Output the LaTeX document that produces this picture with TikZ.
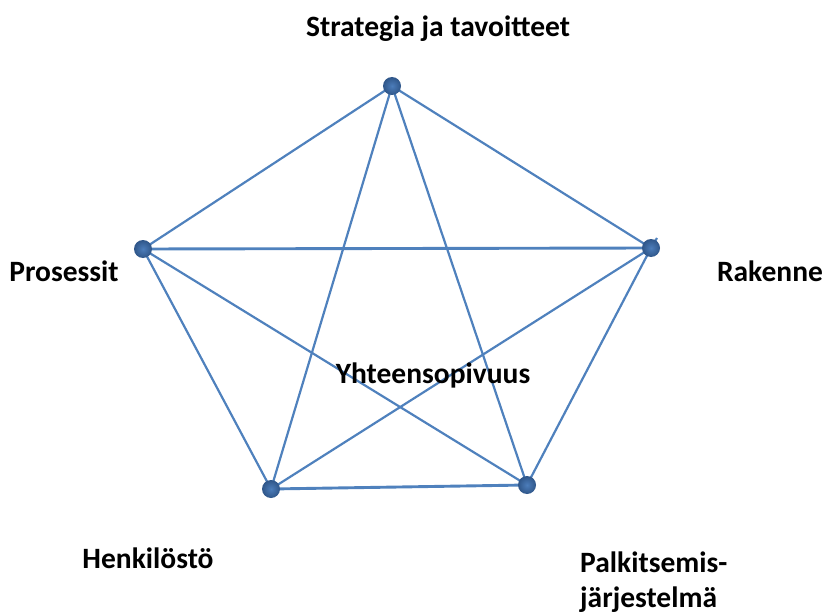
\documentclass[tikz,border=0pt]{standalone}
\usepackage{fontspec}
\setmainfont{Carlito}
\definecolor{lineblue}{HTML}{4F81BD}
\definecolor{dotouter}{HTML}{2F5689}
\definecolor{dotinner}{HTML}{4C7DBA}
\begin{document}
\begin{tikzpicture}[x=1pt,y=-1pt,
  vert/.style={circle,minimum size=18pt,inner sep=0pt,shading=radial,inner color=dotinner,outer color=dotouter},
  edge/.style={draw=lineblue,line width=2.2pt},
  thickedge/.style={draw=lineblue,line width=2.9pt},
  lab/.style={font=\fontsize{29.5}{39}\selectfont\bfseries,inner sep=0pt,anchor=base}]
\useasboundingbox (0,0) rectangle (825,615);
\coordinate (T) at (392,86);
\coordinate (L) at (143,249);
\coordinate (R) at (651,248);
\coordinate (BL) at (271,489);
\coordinate (BR) at (527,485);
\coordinate (stub) at (657,238);
% edges
\draw[edge] (T) -- (L);
\draw[edge] (T) -- (R);
\draw[edge] (T) -- (BL);
\draw[edge] (T) -- (BR);
\draw[thickedge] (L) -- (R);
\draw[edge] (L) -- (BL);
\draw[edge] (L) -- (BR);
\draw[edge] (R) -- (BL);
\draw[edge] (R) -- (BR);
\draw[thickedge] (BL) -- (BR);
\draw[edge] (R) -- (stub);
% vertices
\node[vert] (vT) at (T) {};
\node[vert] (vL) at (L) {};
\node[vert] (vR) at (R) {};
\node[vert] (vBL) at (BL) {};
\node[vert] (vBR) at (BR) {};
% labels
\node[lab] (tS) at (438,37) {Strategia ja tavoitteet};
\node[lab] (tP) at (64,281) {Prosessit};
\node[lab] (tR) at (770,281) {Rakenne};
\node[lab] (tY) at (433,383) {Yhteensopivuus};
\node[lab] (tH) at (148,568) {Henkilöstö};
\node[lab,anchor=base west] (tK1) at (580,572) {Palkitsemis-};
\node[lab,anchor=base west] (tK2) at (580,607) {järjestelmä};
\end{tikzpicture}
\end{document}
